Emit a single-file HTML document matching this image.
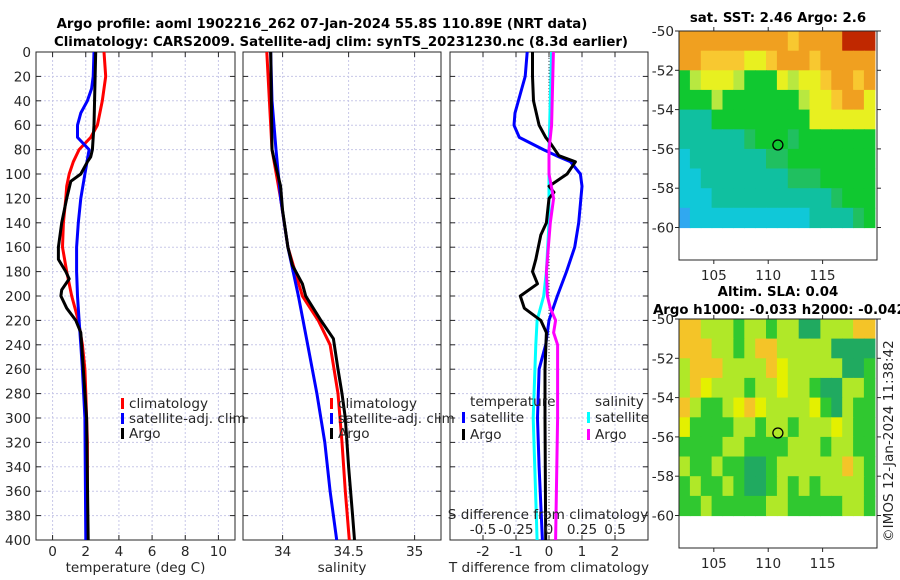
<!DOCTYPE html>
<html><head><meta charset="utf-8">
<style>
body{margin:0;background:#fff}
svg{display:block;font-family:"DejaVu Sans","Liberation Sans",sans-serif}
text{fill:#262626;font-size:13.6px}
.t{font-weight:bold;fill:#000;font-size:13.3px}
</style></head><body>
<svg id="chart" width="900" height="580" viewBox="0 0 900 580">
<text class="t" x="322" y="28" text-anchor="middle">Argo profile: aoml 1902216_262 07-Jan-2024 55.8S 110.89E (NRT data)</text>
<text class="t" x="341" y="46" text-anchor="middle">Climatology: CARS2009. Satellite-adj clim: synTS_20231230.nc (8.3d earlier)</text>
<text class="t" x="778" y="22" text-anchor="middle">sat. SST: 2.46 Argo: 2.6</text>
<text class="t" x="778" y="296" text-anchor="middle">Altim. SLA: 0.04</text>
<text class="t" x="653" y="314">Argo h1000: -0.033 h2000: -0.042</text>
<text x="893" y="542" transform="rotate(-90 893 542)">©IMOS 12-Jan-2024 11:38:42</text>
<g id="layer"></g>
</svg>
<script>
// ---- profile data ----
const tDepthClim=[0,20,40,60,70,80,90,100,110,120,140,160,180,200,220,240,260,280,300,320,340,360,380,400];
const tClim=[3.1,3.2,3.0,2.7,2.3,1.6,1.25,1.0,0.85,0.8,0.65,0.6,0.85,1.15,1.55,1.8,1.95,2.0,2.05,2.1,2.1,2.1,2.1,2.1];
const tDepthSat=[0,20,30,40,50,60,70,80,100,120,140,160,180,200,220,240,260,300,400];
const tSat=[2.5,2.45,2.35,2.1,1.7,1.5,1.5,2.2,1.95,1.7,1.55,1.45,1.45,1.5,1.6,1.7,1.8,1.95,2.0];
const tDepthArgo=[0,60,80,86,90,100,106,120,140,160,170,180,186,195,200,210,220,230,260,300,400];
const tArgo=[2.6,2.5,2.4,2.3,2.1,1.7,1.1,0.85,0.55,0.35,0.35,0.8,1.0,0.55,0.5,0.85,1.4,1.7,1.85,2.05,2.15];
const sDepthClim=[0,40,80,120,160,200,220,240,280,320,360,400];
const sClim=[33.88,33.9,33.92,33.985,34.04,34.15,34.27,34.36,34.42,34.45,34.475,34.505];
const sDepthSat=[0,40,80,120,160,200,240,280,320,360,400];
const sSat=[33.91,33.92,33.95,33.985,34.04,34.12,34.19,34.26,34.32,34.36,34.41];
const sDepthArgo=[0,80,90,110,130,160,175,190,200,220,235,260,280,300,340,380,400];
const sArgo=[33.91,33.92,33.94,33.985,34.0,34.04,34.075,34.15,34.175,34.29,34.385,34.42,34.45,34.475,34.5,34.53,34.545];
const dDepthTSat=[0,20,50,60,70,80,85,90,100,110,140,160,180,200,220,240,260,300,340,400];
const dTSat=[-0.66,-0.72,-1.03,-1.06,-0.9,-0.17,0.22,0.65,0.95,1.0,0.9,0.78,0.53,0.25,0.0,-0.1,-0.3,-0.35,-0.3,-0.2];
const dDepthTArgo=[0,20,40,60,70,75,85,90,100,110,115,120,140,150,170,180,190,200,210,220,230,260,300,400];
const dTArgo=[-0.5,-0.5,-0.47,-0.3,-0.1,0.05,0.3,0.8,0.55,0.0,0.15,0.0,-0.08,-0.25,-0.4,-0.5,-0.35,-0.87,-0.75,-0.25,-0.08,-0.12,-0.12,-0.1];
const dDepthSArgo=[0,60,80,100,120,140,180,200,210,220,230,240,300,400];
const dSArgo=[0.033,0.02,0.0,0.0,0.035,0.01,-0.02,-0.012,0.01,0.05,0.035,0.065,0.065,0.05];
const dDepthSSat=[0,80,100,140,180,200,220,240,300,400];
const dSSat=[0.02,0.0,0.0,0.0,-0.02,-0.04,-0.09,-0.1,-0.12,-0.09];
const depthTicks=[0,20,40,60,80,100,120,140,160,180,200,220,240,260,280,300,320,340,360,380,400];
const tTicks=[0,2,4,6,8,10];
const sTicks=[34,34.5,35];
const sTickLabels=["34","34.5","35"];
const dTicks=[-2,-1,0,1,2];
const dsTicks=[-0.5,-0.25,0,0.25,0.5];
const dsTickLabels=["-0.5","-0.25","0","0.25","0.5"];
const latTicks=[-50,-52,-54,-56,-58,-60];
const lonTicks=[105,110,115];
const argoLon=110.89, argoLat=-55.8;
const sstRows=["OOOOOOOOOOoOOOORRR","OOooooYYoOOOoOOOOO","GyYYYyGGGYyYYoOOoO","GGGyGGGGGGGyYYoOOY","TTTGGGGGGGGGYYYYYY","TTTTTTgGGGgGGGGGGG","CTTTTTTTggGGGGGGGG","CCTTTTTTTTgggGGGGG","CCCTTTTTTTTTTTgGGG","BCCCCCCCCCCCTTTTgG"];
const slaRows=["OOLLLGLLGLLDDLLLOO","OOOLLGLOOLLLLLDDDD","LOOOLLLLOYLLLLLDDG","LOYLLLGLLYLLGDDLLG","OLGGLYOYLLLLYGDLGG","YGGGGLLGLLGLLLYLGG","GGGGLLGGGGLLLGLLGG","LGGLGGDDGLLLLLLOLG","GLGGLGDDGLGLGLLLLG","GGLGGGGGLLGGGGGLLG"];

const NS="http://www.w3.org/2000/svg";
const L=document.getElementById('layer');
function mk(tag,at,parent){const e=document.createElementNS(NS,tag);for(const k in at)e.setAttribute(k,at[k]);(parent||L).appendChild(e);return e;}
const yTop=52,yBot=540;
const yD=d=>yTop+(d/400)*(yBot-yTop);
function panel(name,x0,x1,xmin,xmax,xt,xtl,xlabel){
  const xs=v=>x0+(v-xmin)/(xmax-xmin)*(x1-x0);
  const g=mk('g',{});
  
  
  depthTicks.forEach(d=>{const l=mk('line',{x1:x0,x2:x1,y1:yD(d),y2:yD(d),stroke:'#c8c8e8','stroke-dasharray':'2,2','stroke-width':1},g);
    
    mk('line',{x1:x0,x2:x0+5,y1:yD(d),y2:yD(d),stroke:'#262626'},g);mk('line',{x1:x1-5,x2:x1,y1:yD(d),y2:yD(d),stroke:'#262626'},g);});
  xt.forEach((v,i)=>{const l=mk('line',{x1:xs(v),x2:xs(v),y1:yTop,y2:yBot,stroke:'#c8c8e8','stroke-dasharray':'2,2'},g);
    
    mk('line',{x1:xs(v),x2:xs(v),y1:yBot,y2:yBot-5,stroke:'#262626'},g);mk('line',{x1:xs(v),x2:xs(v),y1:yTop,y2:yTop+5,stroke:'#262626'},g);
    const t=mk('text',{x:xs(v),y:556,'text-anchor':'middle'},g);t.textContent=xtl[i];
    });
  const r=mk('rect',{x:x0,y:yTop,width:x1-x0,height:yBot-yTop,fill:'none',stroke:'#262626'},g);
  
  const xl=mk('text',{x:(x0+x1)/2,y:572,'text-anchor':'middle'},g);xl.textContent=xlabel;
  
  return xs;
}
function series(name,xs,depths,vals,color,w){
  const p=mk('polyline',{points:depths.map((d,i)=>xs(vals[i]).toFixed(1)+','+yD(d).toFixed(1)).join(' '),fill:'none',stroke:color,'stroke-width':w||3,'stroke-linejoin':'round'});
  
}
function legend(name,x,y,color,label){
  const g=mk('g',{});
  
  mk('rect',{x:x,y:y-10,width:3,height:11,fill:color},g);
  const t=mk('text',{x:x+8,y:y},g);t.textContent=label;
}
// Panel 1
const xT=panel('temperature-panel',36,235,-1,11,tTicks,tTicks.map(String),'temperature (deg C)');
depthTicks.forEach(d=>{const t=mk('text',{x:31,y:yD(d)+5,'text-anchor':'end'});t.textContent=d;
  });
series('temp-climatology-line',xT,tDepthClim,tClim,'#f00');
series('temp-satellite-line',xT,tDepthSat,tSat,'#00f');
series('temp-argo-line',xT,tDepthArgo,tArgo,'#000');
legend('legend-climatology',121,408,'#f00','climatology');
legend('legend-satellite-adj',121,423,'#00f','satellite-adj. clim');
legend('legend-argo',121,438,'#000','Argo');
// Panel 2
const xS=panel('salinity-panel',243,441,33.7,35.2,sTicks,sTickLabels,'salinity');
series('sal-climatology-line',xS,sDepthClim,sClim,'#f00');
series('sal-satellite-line',xS,sDepthSat,sSat,'#00f');
series('sal-argo-line',xS,sDepthArgo,sArgo,'#000');
legend('legend-climatology-2',330,408,'#f00','climatology');
legend('legend-satellite-adj-2',330,423,'#00f','satellite-adj. clim');
legend('legend-argo-2',330,438,'#000','Argo');
// Panel 3
const xDT=panel('difference-panel',450,648,-3,3,dTicks,dTicks.map(String),'T difference from climatology');
const xDS=v=>xDT(v*4);
const zl=mk('line',{x1:xDT(0),x2:xDT(0),y1:yTop,y2:yBot,stroke:'#444','stroke-dasharray':'1,2'});

series('tdiff-satellite-line',xDT,dDepthTSat,dTSat,'#00f');
series('sdiff-satellite-line',xDS,dDepthSSat,dSSat,'#0ff');
series('tdiff-argo-line',xDT,dDepthTArgo,dTArgo,'#000');
series('sdiff-argo-line',xDS,dDepthSArgo,dSArgo,'#f0f');
const lt=mk('text',{x:470,y:406});lt.textContent='temperature';

const ls=mk('text',{x:595,y:406});ls.textContent='salinity';

legend('legend-t-satellite',462,422,'#00f','satellite');
legend('legend-t-argo',462,439,'#000','Argo');
legend('legend-s-satellite',587,422,'#0ff','satellite');
legend('legend-s-argo',587,439,'#f0f','Argo');
const st=mk('text',{x:548,y:519,'text-anchor':'middle'});st.textContent='S difference from climatology';

dsTicks.forEach((v,i)=>{const t=mk('text',{x:xDS(v),y:534,'text-anchor':'middle'});t.textContent=dsTickLabels[i];
  });
// Maps
const sstPal={R:'#c02800',O:'#f0a020',o:'#f8c830',Y:'#e8f020',y:'#b8e840',G:'#10c830',g:'#20c060',T:'#10c0a0',C:'#10c8d8',B:'#30a8f0'};
const slaPal={O:'#f4c428',Y:'#e4f000',L:'#b0e828',G:'#30c830',D:'#20aa60'};
function map(name,y0,rows,pal){
  const x0=679,x1=877,y1=y0+229;
  const lonS=v=>x0+(v-101.8)/(120-101.8)*(x1-x0);
  const latS=v=>y0+(-50-v)/10*196.5;
  const g=mk('g',{});
  
  rows.forEach((row,r)=>{for(let c=0;c<row.length;c++){
    mk('rect',{x:lonS(101.8+c).toFixed(1),y:latS(-50-r).toFixed(1),width:(lonS(102.8)-lonS(101.8)+0.6).toFixed(1),height:(latS(-51)-latS(-50)+0.6).toFixed(1),fill:pal[row[c]]},g);}});
  mk('rect',{x:x0,y:y0,width:x1-x0,height:y1-y0,fill:'none',stroke:'#262626'},g);
  latTicks.forEach(v=>{mk('line',{x1:x0,x2:x0-4,y1:latS(v),y2:latS(v),stroke:'#262626'},g);mk('line',{x1:x1,x2:x1+4,y1:latS(v),y2:latS(v),stroke:'#262626'},g);
    const t=mk('text',{x:x0-5,y:latS(v)+5,'text-anchor':'end'},g);t.textContent=v;});
  lonTicks.forEach(v=>{mk('line',{x1:lonS(v),x2:lonS(v),y1:y1,y2:y1+4,stroke:'#262626'},g);mk('line',{x1:lonS(v),x2:lonS(v),y1:y0,y2:y0-4,stroke:'#262626'},g);
    const t=mk('text',{x:lonS(v),y:y1+20,'text-anchor':'middle'},g);t.textContent=v;});
  const c=mk('circle',{cx:lonS(argoLon),cy:latS(argoLat),r:5,fill:'none',stroke:'#000','stroke-width':1.3},g);
  
}
map('sst-map',31,sstRows,sstPal);
map('sla-map',319,slaRows,slaPal);
</script>
</body></html>
